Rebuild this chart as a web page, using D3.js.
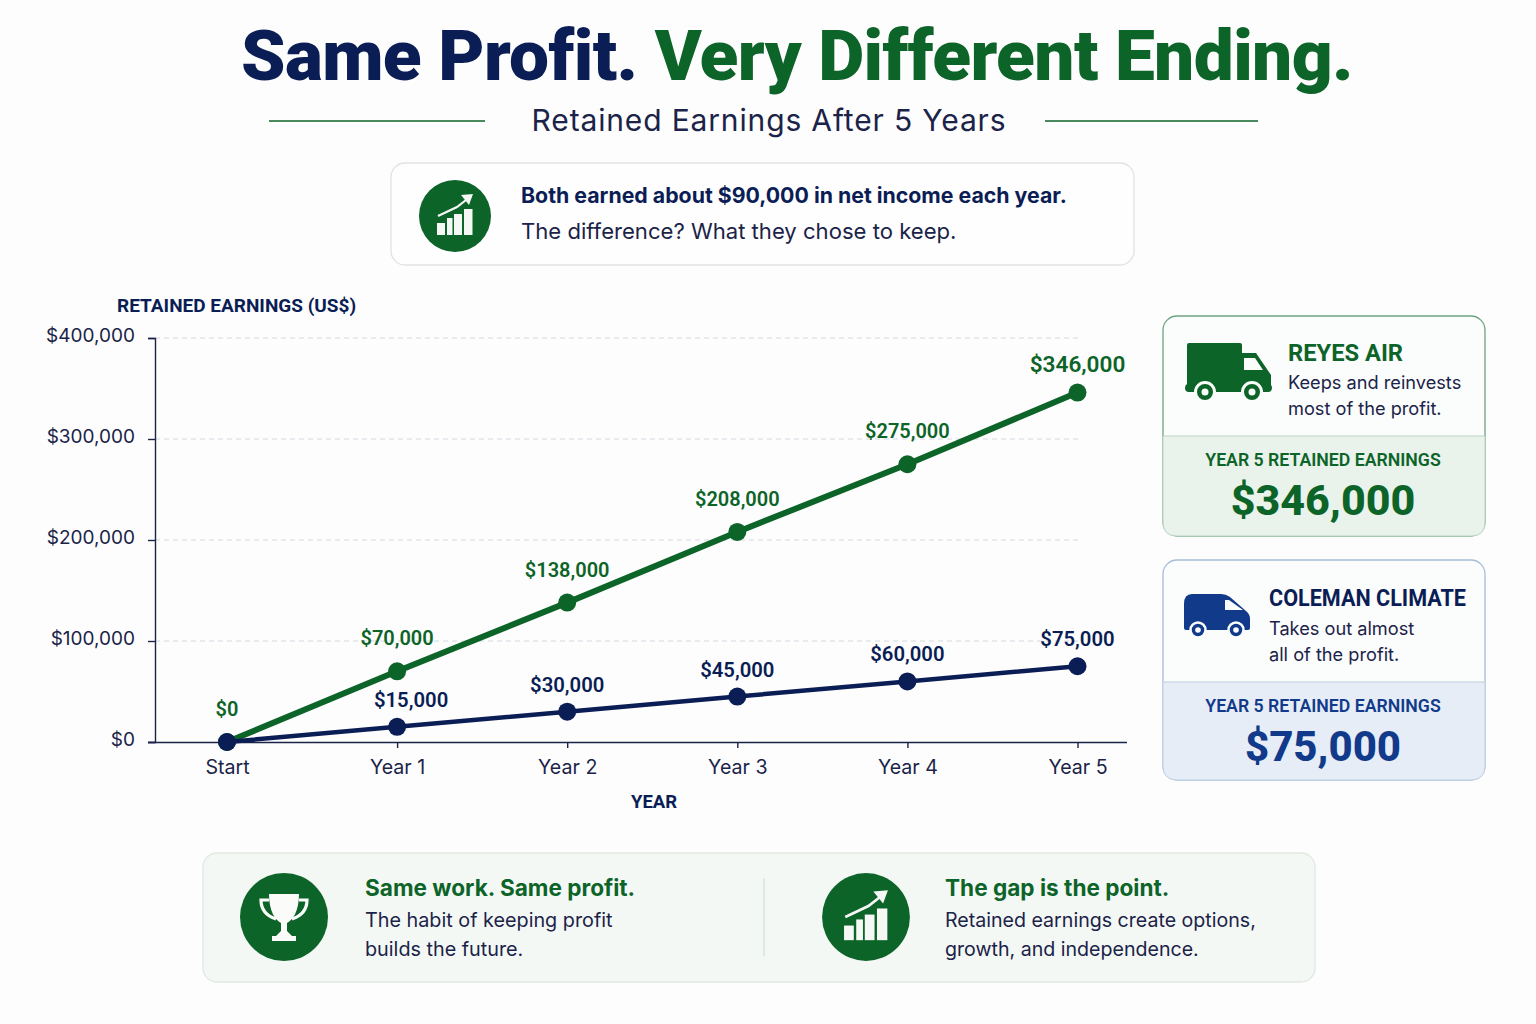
<!DOCTYPE html>
<html><head><meta charset="utf-8">
<script src="https://cdn.jsdelivr.net/npm/d3@7/dist/d3.min.js"></script>
<style>html,body{margin:0;padding:0;background:#fdfdfd}svg{display:block}text{font-family:Inter,"Noto Sans",sans-serif}</style>
</head><body><svg id="c" width="1536" height="1024"></svg>
<script>
const categories = ["Start","Year 1","Year 2","Year 3","Year 4","Year 5"];
const reyesValues = [0,70000,138000,208000,275000,346000];
const colemanValues = [0,15000,30000,45000,60000,75000];
const yTicks = [0,100000,200000,300000,400000];
const NAVY="#0b1d55", GREEN="#0d6429", BLUE="#123a8a", INK="#1b2348";

const svg=d3.select("#c");
const x=d3.scalePoint().domain(categories).range([227,1077.5]);
const y=d3.scaleLinear().domain([0,400000]).range([742,338]);
const money=d3.format("$,");
function T(g,px,py,s,size,fill,weight,anchor,fam,ls){
  const t=g.append("text").attr("x",px).attr("y",py).attr("font-size",size).attr("fill",fill)
   .attr("font-weight",weight||400).attr("text-anchor",anchor||"start").text(s);
  if(fam)t.style("font-family",fam); if(ls)t.attr("letter-spacing",ls); return t;
}
const R="Roboto,Inter,sans-serif";

// Title
const title=svg.append("text").attr("x",797).attr("y",80).attr("text-anchor","middle").attr("font-size",71.2)
  .attr("font-weight",900).style("font-family",R).attr("letter-spacing",-0.6);
title.append("tspan").attr("fill",NAVY).text("Same Profit. ");
title.append("tspan").attr("fill",GREEN).text("Very Different Ending.");
T(svg,769,131,"Retained Earnings After 5 Years",30,INK,400,"middle","Inter",0.85);
svg.append("line").attr("x1",269).attr("x2",485).attr("y1",121).attr("y2",121).attr("stroke",GREEN).attr("stroke-width",1.5);
svg.append("line").attr("x1",1045).attr("x2",1258).attr("y1",121).attr("y2",121).attr("stroke",GREEN).attr("stroke-width",1.5);

// Icons
function chartIcon(g,cx,cy,k){
  const i=g.append("g").attr("transform",`translate(${cx},${cy}) scale(${k})`);
  i.append("circle").attr("r",36).attr("fill",GREEN);
  [[-18,7,8,12],[-8,2,5.5,17],[-1,-2,8,21],[9,-7,8.5,26]].forEach(b=>i.append("rect").attr("x",b[0]).attr("y",b[1]).attr("width",b[2]).attr("height",b[3]).attr("fill","#f6f8f5"));
  i.append("path").attr("d","M-17 0 L2 -9 L11 -16").attr("fill","none").attr("stroke","#f6f8f5").attr("stroke-width",2.2);
  i.append("path").attr("d","M6 -21 L18 -22 L14 -11 Z").attr("fill","#f6f8f5");
}
function trophyIcon(g,cx,cy){
  const i=g.append("g").attr("transform",`translate(${cx},${cy})`);
  i.append("circle").attr("r",44).attr("fill",GREEN);
  i.append("path").attr("d","M-15 -23 H15 C15 -6 9 3 3 6 V14 L8 19 H12 V24 H-12 V19 H-8 L-3 14 V6 C-9 3 -15 -6 -15 -23Z").attr("fill","#fbfbfa");
  i.append("path").attr("d","M-15 -17 H-23 C-23 -7 -17 -1 -8 2 M15 -17 H23 C23 -7 17 -1 8 2").attr("fill","none").attr("stroke","#fbfbfa").attr("stroke-width",3.2);
}
function truck(g,cx,cy,c){
  const i=g.append("g").attr("transform",`translate(${cx},${cy})`);
  i.append("path").attr("d","M-41 -29 H10 Q12 -29 12 -27 V-19 H26 L41 3 V13 Q42 14 42 16 Q42 20 38 20 H-41 Q-45 20 -45 16 Q-45 13 -43 12 V-27 Q-43 -29 -41 -29 Z").attr("fill",c);
  i.append("path").attr("d","M14 -14 H25 L33 -2 H14 Z").attr("fill","#fbfdfb");
  [-25,22].forEach(w=>{i.append("circle").attr("cx",w).attr("cy",20).attr("r",9.5).attr("fill",c).attr("stroke","#fbfdfb").attr("stroke-width",3);
    i.append("circle").attr("cx",w).attr("cy",20).attr("r",3.5).attr("fill","#fbfdfb");});
}
function van(g,cx,cy,c){
  const i=g.append("g").attr("transform",`translate(${cx},${cy})`);
  i.append("path").attr("d","M-26 -20 H3 Q8 -20 12 -17 L28 -3 Q32 0 32 5 V14 Q32 16 30 16 H-32 Q-34 16 -34 14 V-10 Q-34 -20 -26 -20 Z").attr("fill",c);
  i.append("path").attr("d","M7 -14 H11 L25 -4 H7 Z").attr("fill","#fbfcfe");
  [-20,18].forEach(w=>{i.append("circle").attr("cx",w).attr("cy",16).attr("r",7.5).attr("fill",c).attr("stroke","#fbfcfe").attr("stroke-width",2.5);
    i.append("circle").attr("cx",w).attr("cy",16).attr("r",2.8).attr("fill","#fbfcfe");});
}

// Top note
svg.append("rect").attr("x",391).attr("y",163).attr("width",743).attr("height",102).attr("rx",14).attr("fill","#fefefe").attr("stroke","#dfe2e5").attr("stroke-width",1.3);
chartIcon(svg,455,216,1);
T(svg,521,203,"Both earned about $90,000 in net income each year.",21.3,NAVY,700);
T(svg,521,239,"The difference? What they chose to keep.",22.1,INK,400);

// Chart
const grid=svg.append("g");
grid.selectAll("line").data(yTicks.filter(d=>d>0)).join("line")
  .attr("x1",155).attr("x2",1078).attr("y1",d=>y(d)).attr("y2",d=>y(d))
  .attr("stroke","#d3d8e0").attr("stroke-dasharray","5 4");
const yAxis=svg.append("g").attr("transform","translate(155,0)")
  .call(d3.axisLeft(y).tickValues(yTicks).tickSize(7).tickFormat(money));
yAxis.select(".domain").attr("stroke",INK).attr("stroke-width",1.4);
yAxis.selectAll("line").attr("stroke",INK).attr("stroke-width",1.4);
yAxis.selectAll("text").attr("x",-20).attr("dy","0.2em").attr("font-size",19).attr("fill",INK).style("font-family","Inter");
const xAxis=svg.append("g").attr("transform","translate(0,742)")
  .call(d3.axisBottom(x).tickSize(6).tickSizeOuter(0));
xAxis.select(".domain").attr("d","M148 0.5H1127").attr("stroke",INK).attr("stroke-width",1.4);
xAxis.selectAll("line").attr("stroke",INK).attr("stroke-width",1.4);
xAxis.selectAll("text").attr("y",18).attr("dy","0.71em").attr("font-size",19.6).attr("fill",INK).style("font-family","Inter");
T(svg,117,312,"RETAINED EARNINGS (US$)",19,NAVY,700,"start",R);
T(svg,654,808,"YEAR",18.5,NAVY,700,"middle",R);

const line=d3.line().x((d,i)=>x(categories[i])).y(d=>y(d));
function series(vals,c,w){
  svg.append("path").datum(vals).attr("d",line).attr("fill","none").attr("stroke",c).attr("stroke-width",w);
  svg.append("g").selectAll("circle").data(vals).join("circle")
    .attr("cx",(d,i)=>x(categories[i])).attr("cy",d=>y(d)).attr("r",9).attr("fill",c);
}
series(reyesValues,GREEN,6);
series(colemanValues,NAVY,4.5);
const last=reyesValues.length-1;
svg.append("g").selectAll("text").data(reyesValues).join("text")
  .attr("x",(d,i)=>x(categories[i])).attr("y",(d,i)=>y(d)+(i===last?-21:-26))
  .attr("text-anchor","middle").attr("font-size",(d,i)=>i===last?22.6:20).attr("font-weight",600).attr("fill",GREEN)
  .style("font-family",R).text(money);
svg.append("g").selectAll("text").data(colemanValues.slice(1)).join("text")
  .attr("x",(d,i)=>x(categories[i+1])+(i===0?14:0)).attr("y",d=>y(d)-20)
  .attr("text-anchor","middle").attr("font-size",20.3).attr("font-weight",600).attr("fill",NAVY)
  .style("font-family",R).text(money);

// Cards
function card(top,split,stroke,strokeLow,lowFill,drawIcon,name,nameX,nameW,nameC,off,lineOff,l1,l2,lab,val,labC,valC,valSize){
  const g=svg.append("g");
  g.append("rect").attr("x",1163).attr("y",top).attr("width",322).attr("height",220).attr("rx",14).attr("fill","#fbfcfc").attr("stroke",stroke).attr("stroke-width",1.3);
  const h=top+220-split;
  g.append("path").attr("d",`M1163 ${split} H1485 V${split+h-14} Q1485 ${split+h} 1471 ${split+h} H1177 Q1163 ${split+h} 1163 ${split+h-14} Z`)
   .attr("fill",lowFill).attr("stroke",strokeLow).attr("stroke-width",1);
  drawIcon(g);
  T(g,nameX,top+off,name,24,nameC,700,"start",R).attr("textLength",nameW).attr("lengthAdjust","spacingAndGlyphs");
  T(g,nameX,top+lineOff,l1,18.2,INK,400);
  T(g,nameX,top+lineOff+26,l2,18.2,INK,400);
  T(g,1323,split+30,lab,17.7,labC,600,"middle",R);
  T(g,1323,split+79,val,valSize,valC,800,"middle",R);
}
card(316,436,"#6da483","#bcd5c4","#e9f2eb",g=>truck(g,1230,372,GREEN),"REYES AIR",1288,115,GREEN,45,73,"Keeps and reinvests","most of the profit.","YEAR 5 RETAINED EARNINGS",money(reyesValues[5]),GREEN,GREEN,43);
card(560,682,"#a7bcd6","#c0d0e4","#e6edf7",g=>van(g,1218,614,BLUE),"COLEMAN CLIMATE",1269,197,NAVY,46,75,"Takes out almost","all of the profit.","YEAR 5 RETAINED EARNINGS",money(colemanValues[5]),BLUE,BLUE,42);

// Bottom panel
svg.append("rect").attr("x",203).attr("y",853).attr("width",1112).attr("height",129).attr("rx",14).attr("fill","#f4f8f5").attr("stroke","#dfe9e1").attr("stroke-width",1.3);
svg.append("line").attr("x1",764).attr("x2",764).attr("y1",878).attr("y2",956).attr("stroke","#d3e0d6").attr("stroke-width",1.3);
trophyIcon(svg,284,917);
chartIcon(svg,866,917,1.22);
T(svg,365,896,"Same work. Same profit.",22.6,GREEN,700);
T(svg,365,927,"The habit of keeping profit",19.8,INK);
T(svg,365,956,"builds the future.",19.8,INK);
T(svg,945,896,"The gap is the point.",22.6,GREEN,700);
T(svg,945,927,"Retained earnings create options,",19.6,INK);
T(svg,945,956,"growth, and independence.",19.6,INK);
</script></body></html>
